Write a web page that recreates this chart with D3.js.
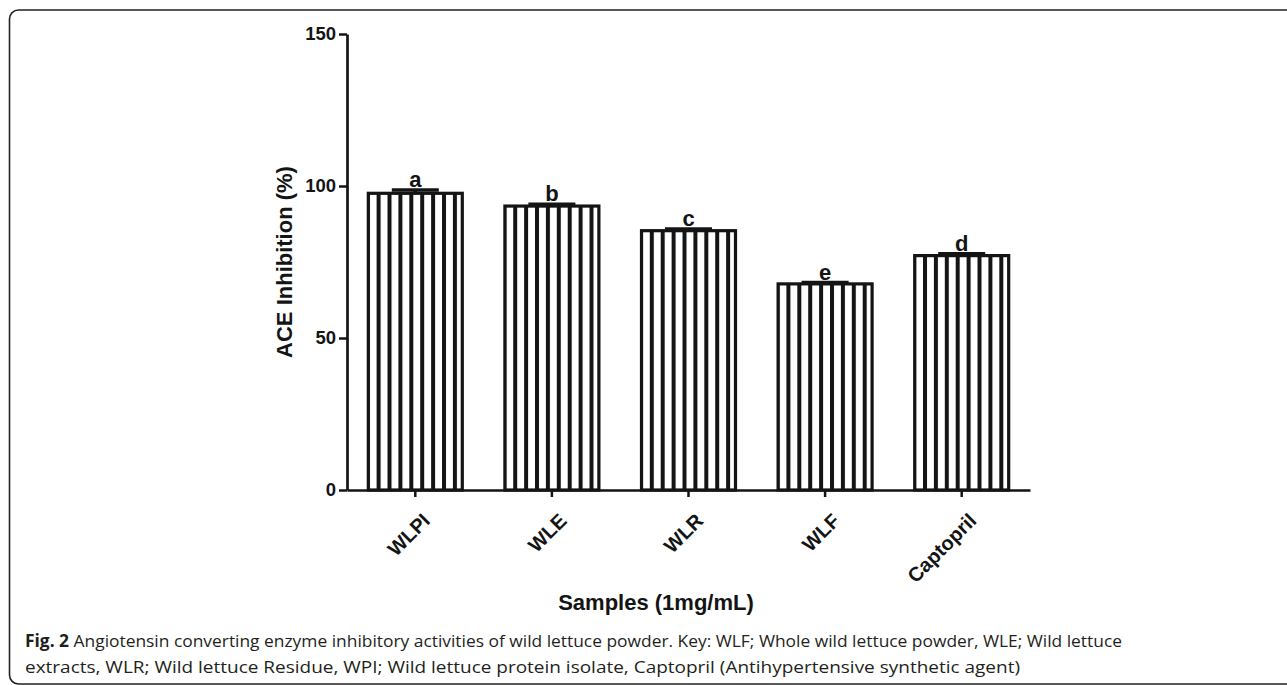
<!DOCTYPE html>
<html>
<head>
<meta charset="utf-8">
<script src="https://cdn.jsdelivr.net/npm/d3@7"></script>
<style>
  body { margin: 0; background: #fff; }
  svg { display: block; }
</style>
</head>
<body>
<svg id="chart"></svg>
<script>
const samples = ["WLPI", "WLE", "WLR", "WLF", "Captopril"];
const inhibition = [97.6, 93.4, 85.3, 67.8, 77.1];
const sd = [1.1, 0.6, 0.5, 0.4, 0.6];
const groups = ["a", "b", "c", "e", "d"];
const yTicks = [0, 50, 100, 150];
const captionLines = [
    ["Fig. 2", " Angiotensin converting enzyme inhibitory activities of wild lettuce powder. Key: WLF; Whole wild lettuce powder, WLE; Wild lettuce"],
    ["", "extracts, WLR; Wild lettuce Residue, WPI; Wild lettuce protein isolate, Captopril (Antihypertensive synthetic agent)"]
];

const width = 1287, height = 685;
const plot = { left: 347, right: 1030, top: 34, bottom: 490 };
const ink = "#141414";
const boldFont = "'Liberation Sans', Arial, sans-serif";

const svg = d3.select("#chart").attr("width", width).attr("height", height);

// figure frame (rounded, runs off the right edge)
svg.append("rect")
    .attr("x", 9.5).attr("y", 10)
    .attr("width", 1300).attr("height", 674)
    .attr("rx", 9).attr("ry", 9)
    .attr("fill", "none")
    .attr("stroke", "#222")
    .attr("stroke-width", 1.6);

const x = d3.scaleBand()
    .domain(samples)
    .range([plot.left, plot.right])
    .paddingInner(0.312)
    .paddingOuter(0.156);

const y = d3.scaleLinear()
    .domain([0, 150])
    .range([plot.bottom, plot.top]);

const data = samples.map((s, i) => ({ name: s, value: inhibition[i], sd: sd[i], group: groups[i] }));

// vertical stripe pattern, one per bar so the stripes line up with each bar's left edge
const defs = svg.append("defs");
const stripeStep = 10.9, stripeWidth = 4, stripeOffset = 8.3;
defs.selectAll("pattern")
    .data(data)
    .join("pattern")
    .attr("id", (d, i) => `stripes_${i}`)
    .attr("patternUnits", "userSpaceOnUse")
    .attr("width", stripeStep)
    .attr("height", 10)
    .attr("patternTransform", d => `translate(${x(d.name) + stripeOffset},0)`)
    .call(p => p.append("rect").attr("width", stripeStep).attr("height", 10).attr("fill", "#fff"))
    .call(p => p.append("rect").attr("width", stripeWidth).attr("height", 10).attr("fill", ink));

// bars
svg.append("g")
    .selectAll("rect")
    .data(data)
    .join("rect")
    .attr("x", d => x(d.name))
    .attr("y", d => y(d.value))
    .attr("width", x.bandwidth())
    .attr("height", d => y(0) - y(d.value))
    .attr("fill", (d, i) => `url(#stripes_${i})`)
    .attr("stroke", ink)
    .attr("stroke-width", 3.2);

// error bars (upper half only, as in the original)
const capHalf = 23.5;
const err = svg.append("g").attr("stroke", ink).attr("stroke-width", 3.6);
err.selectAll("line.cap")
    .data(data)
    .join("line")
    .attr("class", "cap")
    .attr("x1", d => x(d.name) + x.bandwidth() / 2 - capHalf)
    .attr("x2", d => x(d.name) + x.bandwidth() / 2 + capHalf)
    .attr("y1", d => y(d.value + d.sd))
    .attr("y2", d => y(d.value + d.sd));
err.selectAll("line.stem")
    .data(data)
    .join("line")
    .attr("class", "stem")
    .attr("x1", d => x(d.name) + x.bandwidth() / 2)
    .attr("x2", d => x(d.name) + x.bandwidth() / 2)
    .attr("y1", d => y(d.value))
    .attr("y2", d => y(d.value + d.sd));

// significance letters
svg.append("g")
    .selectAll("text")
    .data(data)
    .join("text")
    .attr("x", d => x(d.name) + x.bandwidth() / 2)
    .attr("y", d => y(d.value + d.sd) - 3)
    .attr("text-anchor", "middle")
    .attr("font-family", boldFont)
    .attr("font-weight", "bold")
    .attr("font-size", 22)
    .attr("fill", ink)
    .text(d => d.group);

// y axis
const yAxis = svg.append("g")
    .attr("transform", `translate(${plot.left},0)`)
    .call(d3.axisLeft(y).tickValues(yTicks).tickSize(8).tickPadding(3).tickSizeOuter(0));
yAxis.select(".domain").attr("stroke", ink).attr("stroke-width", 2.7);
yAxis.selectAll(".tick line").attr("stroke", ink).attr("stroke-width", 2.5);
yAxis.selectAll(".tick text")
    .attr("font-family", boldFont)
    .attr("font-weight", "bold")
    .attr("font-size", 18.5)
    .attr("fill", ink);

// x axis
const xAxis = svg.append("g")
    .attr("transform", `translate(0,${plot.bottom})`)
    .call(d3.axisBottom(x).tickSize(7).tickSizeOuter(0));
xAxis.select(".domain").attr("stroke", ink).attr("stroke-width", 2.7);
xAxis.selectAll(".tick line").attr("stroke", ink).attr("stroke-width", 2.5);
xAxis.selectAll(".tick text")
    .attr("font-family", boldFont)
    .attr("font-weight", "bold")
    .attr("font-size", 20)
    .attr("fill", ink)
    .attr("text-anchor", "end")
    .attr("dy", null)
    .attr("y", null)
    .attr("transform", "translate(16,32) rotate(-45)");

// axis titles
svg.append("text")
    .attr("transform", `translate(292,${(plot.top + plot.bottom) / 2}) rotate(-90)`)
    .attr("text-anchor", "middle")
    .attr("font-family", boldFont)
    .attr("font-weight", "bold")
    .attr("font-size", 22)
    .attr("fill", ink)
    .text("ACE Inhibition (%)");

svg.append("text")
    .attr("x", 656)
    .attr("y", 610)
    .attr("text-anchor", "middle")
    .attr("font-family", boldFont)
    .attr("font-weight", "bold")
    .attr("font-size", 22)
    .attr("fill", ink)
    .text("Samples (1mg/mL)");

// caption
const caption = svg.append("g")
    .attr("font-family", "'Open Sans', 'Noto Sans', sans-serif")
    .attr("font-size", 17)
    .attr("fill", "#231f20");
const captionWidths = [1097, 995];
captionLines.forEach(([lead, rest], i) => {
    const t = caption.append("text")
        .attr("x", 25)
        .attr("y", 647 + i * 26)
        .attr("textLength", captionWidths[i])
        .attr("lengthAdjust", "spacingAndGlyphs");
    if (lead) t.append("tspan").attr("font-weight", "bold").text(lead);
    t.append("tspan").text(rest);
});
</script>
</body>
</html>
